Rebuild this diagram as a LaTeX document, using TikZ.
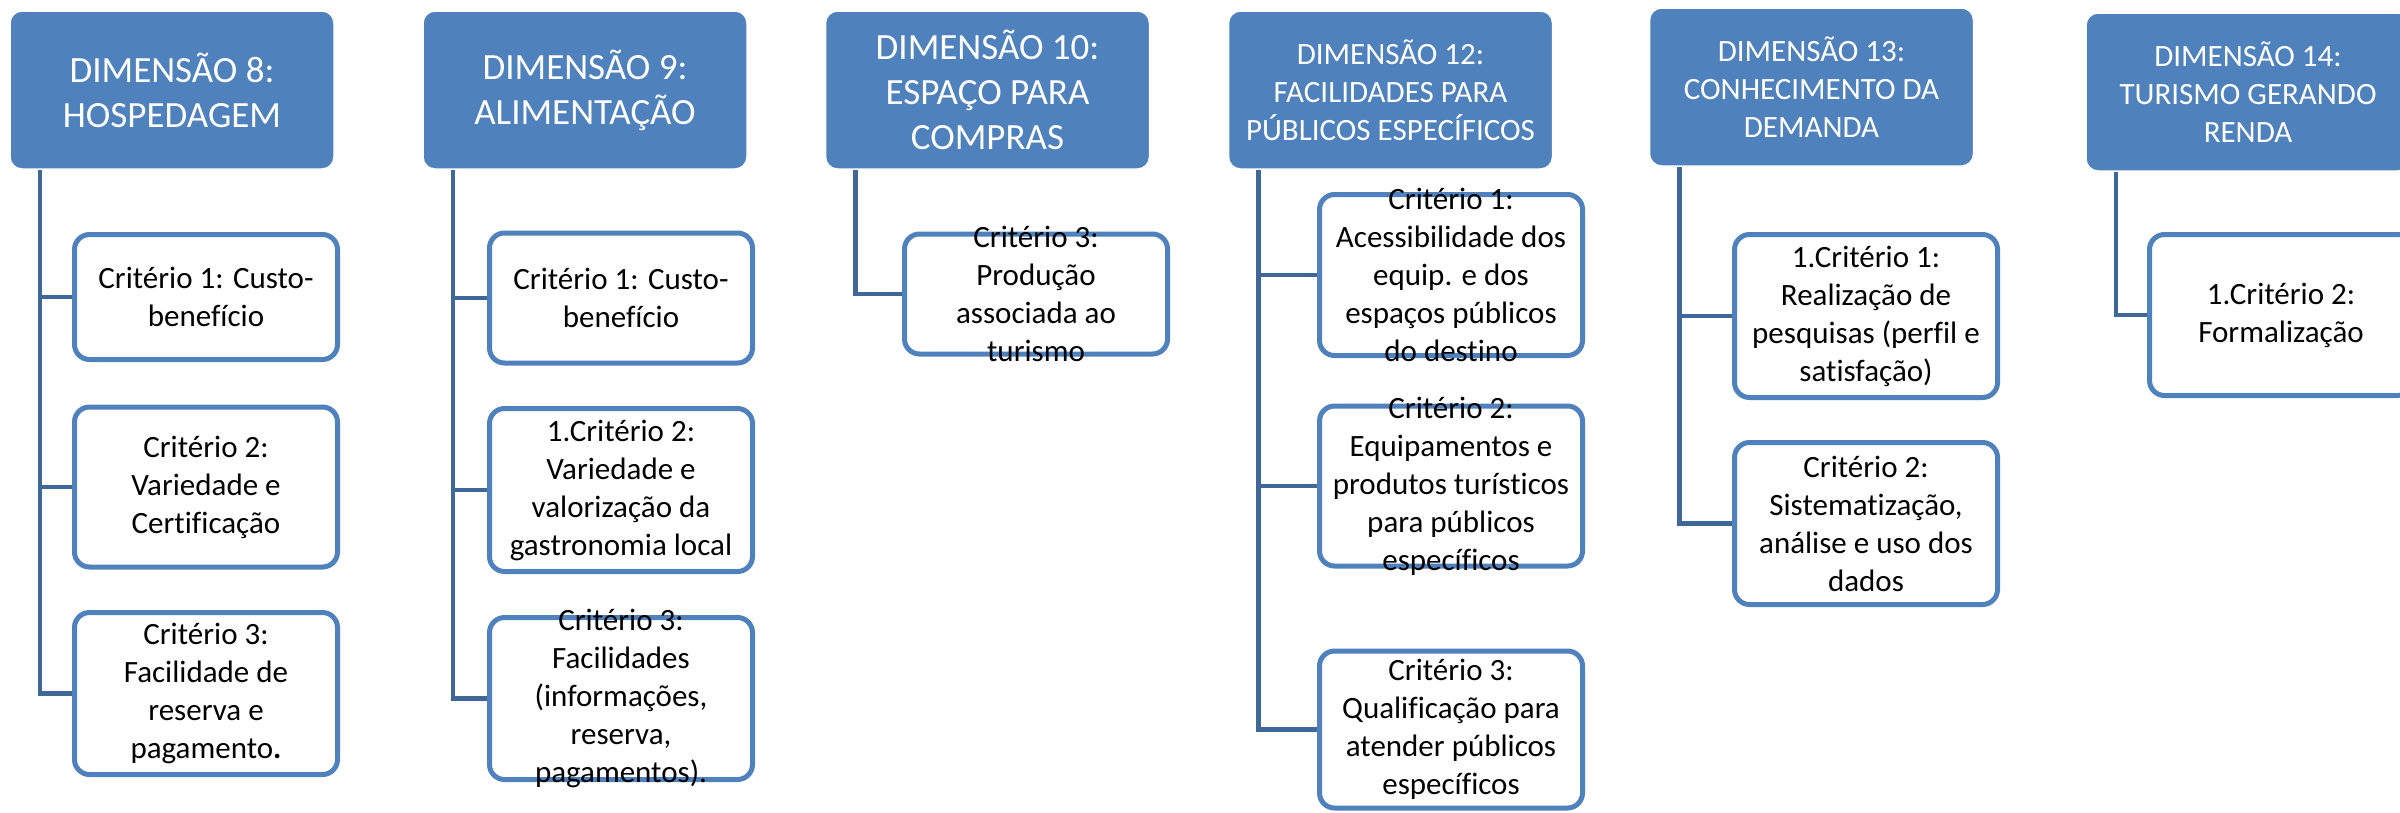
\documentclass[tikz,border=0pt]{standalone}
\usepackage{fontspec}
\setmainfont{Carlito}[Ligatures={NoCommon}]
\usetikzlibrary{calc,backgrounds}
\definecolor{hdrblue}{HTML}{4F81BD}
\definecolor{connblue}{HTML}{3F6899}
\newcommand{\bigfnt}{\fontsize{37pt}{45pt}\selectfont}
\newcommand{\smfnt}{\fontsize{31pt}{38pt}\selectfont}
\tikzset{
  hdr/.style={rectangle, rounded corners=12pt, fill=hdrblue, draw=white, line width=1.5pt,
    minimum width=324pt, minimum height=158pt, inner sep=0pt, align=center, text=white},
  hdrbig/.style={hdr, font=\bigfnt},
  hdrsm/.style={hdr, font=\smfnt},
  crit/.style={rectangle, rounded corners=15pt, draw=hdrblue, fill=white, line width=5pt,
    minimum width=263pt, inner sep=0pt},
  ctext/.style={align=center, font=\smfnt, inner sep=0pt, text=black},
  conn/.style={draw=connblue, line width=4.5pt}
}
\begin{document}
\begin{tikzpicture}[x=1pt,y=-1pt]
\useasboundingbox (0,0) rectangle (2400,812);
\clip (0,0) rectangle (2400,812);

% headers
\node[hdrbig] (h8) at (172,90) {DIMENSÃO 8:\\HOSPEDAGEM};
\node[hdrbig] (h9) at (585,90) {DIMENSÃO 9:\\ALIMENTAÇÃO};
\node[hdrbig] (h10) at (987.5,90) {DIMENSÃO 10:\\ESPAÇO PARA\\COMPRAS};
\node[hdrsm] (h12) at (1390.5,90) {DIMENSÃO 12:\\FACILIDADES PARA\\PÚBLICOS ESPECÍFICOS};
\node[hdrsm] (h13) at (1811.5,87) {DIMENSÃO 13:\\CONHECIMENTO DA\\DEMANDA};
\node[hdrsm] (h14) at (2248,92) {DIMENSÃO 14:\\TURISMO GERANDO\\RENDA};

% D8 children
\node[crit, minimum height=125pt] (c81) at (206,297) {};
\node[ctext] (t81) at (c81) {Critério 1: Custo-\\benefício};
\node[crit, minimum height=160pt] (c82) at (206,487) {};
\node[ctext] (t82) at (c82) {Critério 2:\\Variedade e\\Certificação};
\node[crit, minimum height=162pt] (c83) at (206,693.5) {};
\node[ctext] (t83) at (c83) {Critério 3:\\Facilidade de\\reserva e\\pagamento{\bfseries .}};

% D9 children
\node[crit, minimum height=130pt] (c91) at (621,298) {};
\node[ctext] (t91) at (c91) {Critério 1: Custo-\\benefício};
\node[crit, minimum height=163pt] (c92) at (621,490) {};
\node[ctext] (t92) at (c92) {1.Critério 2:\\Variedade e\\valorização da\\gastronomia local};
\node[crit, minimum height=162pt] (c93) at (621,698.5) {};
\node[ctext] (t93) at (c93) {Critério 3:\\Facilidades\\(informações,\\reserva,\\pagamentos).};

% D10 child
\node[crit, minimum height=120pt] (c101) at (1036,294) {};
\node[ctext] (t101) at (c101) {Critério 3:\\Produção\\associada ao\\turismo};

% D12 children
\node[crit, minimum height=161pt] (c121) at (1451,275) {};
\node[ctext] (t121) at (c121) {Critério 1:\\Acessibilidade dos\\equip. e dos\\espaços públicos\\do destino};
\node[crit, minimum height=160pt] (c122) at (1451,486) {};
\node[ctext] (t122) at (c122) {Critério 2:\\Equipamentos e\\produtos turísticos\\para públicos\\específicos};
\node[crit, minimum height=157pt] (c123) at (1451,729.5) {};
\node[ctext] (t123) at (c123) {Critério 3:\\Qualificação para\\atender públicos\\específicos};

% D13 children
\node[crit, minimum height=163pt] (c131) at (1866,316) {};
\node[ctext] (t131) at (c131) {1.Critério 1:\\Realização de\\pesquisas (perfil e\\satisfação)};
\node[crit, minimum height=162pt] (c132) at (1866,523.5) {};
\node[ctext] (t132) at (c132) {Critério 2:\\Sistematização,\\análise e uso dos\\dados};

% D14 child
\node[crit, minimum height=161pt] (c141) at (2281,315) {};
\node[ctext] (t141) at (c141) {1.Critério 2:\\Formalização};

% connectors
\begin{scope}[on background layer]
\foreach \h/\c in {h8/c81,h8/c82,h8/c83,h9/c91,h9/c92,h9/c93,h10/c101,
                   h12/c121,h12/c122,h12/c123,h13/c131,h13/c132,h14/c141}{
  \draw[conn] ($(\h.south west)+(30.5,0)$) |- (\c.west);
}
\end{scope}
\end{tikzpicture}
\end{document}
